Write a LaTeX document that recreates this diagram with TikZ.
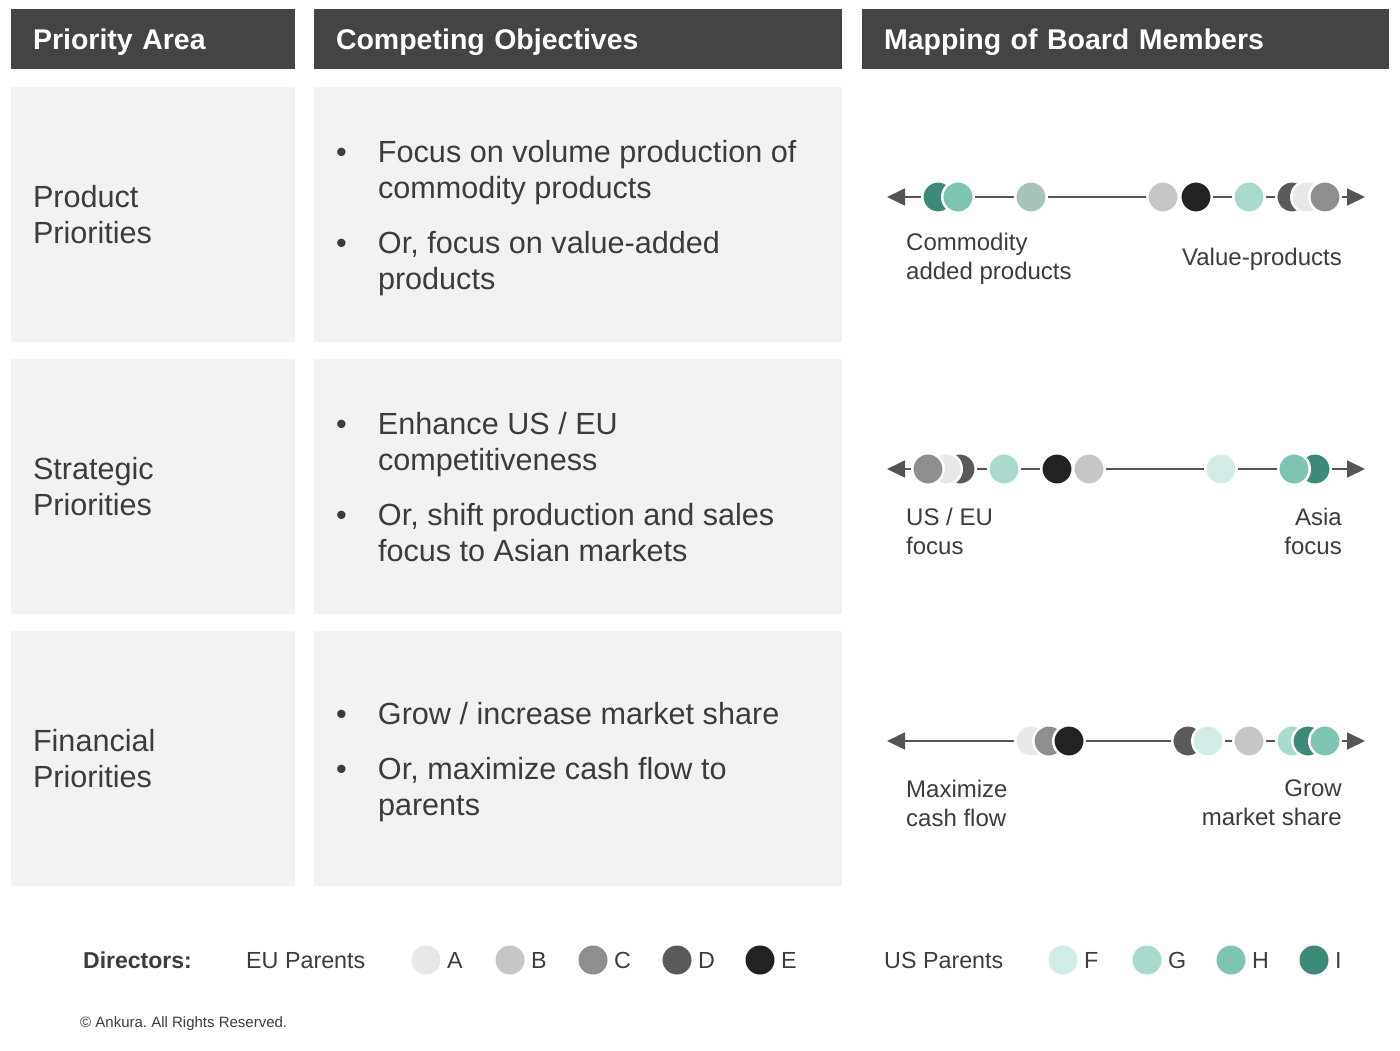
\documentclass[tikz,border=0pt]{standalone}
\usepackage{fontspec}
\setmainfont{Liberation Sans}
\usepackage{xcolor}
\usetikzlibrary{arrows.meta}
\frenchspacing
\definecolor{hdr}{HTML}{444444}
\definecolor{cell}{HTML}{F2F2F2}
\definecolor{ink}{HTML}{3C3C3C}
\definecolor{rule}{HTML}{555555}
\definecolor{dirA}{HTML}{E8E8E8}
\definecolor{dirB}{HTML}{C6C6C6}
\definecolor{dirC}{HTML}{8E8E8E}
\definecolor{dirD}{HTML}{5A5A5A}
\definecolor{dirE}{HTML}{222222}
\definecolor{dirF}{HTML}{D4ECE7}
\definecolor{dirG}{HTML}{A8DACD}
\definecolor{dirH}{HTML}{7DC4B3}
\definecolor{dirI}{HTML}{3E8A78}
\definecolor{dirX}{HTML}{A6C3BC}
\begin{document}
\begin{tikzpicture}[x=1pt,y=-1pt,
  head/.style={fill=hdr,text=white,font=\bfseries\fontsize{28.5}{35}\selectfont,minimum height=60pt,inner xsep=22pt,inner ysep=0pt,align=left,text height=21pt,text depth=0pt},
  cellbox/.style={fill=cell,minimum height=255pt,inner sep=0pt},
  area/.style={text=ink,font=\fontsize{30.6}{36}\selectfont,align=left,anchor=west,inner sep=0pt},
  goals/.style={text=ink,font=\fontsize{30.6}{36}\selectfont,anchor=west,inner sep=0pt},
  pole/.style={text=ink,font=\fontsize{24}{29}\selectfont,inner sep=0pt},
  dot/.style={circle,draw=white,line width=2.5pt,minimum size=31.5pt,inner sep=0pt},
  key/.style={text=ink,font=\fontsize{23.3}{28}\selectfont,anchor=base west,inner sep=0pt},
  scale line/.style={draw=rule,line width=1.8pt,{Triangle[length=18pt,width=17pt]}-{Triangle[length=18pt,width=17pt]}}]
\useasboundingbox (0,0) rectangle (1400,1050);
% headers
\node[head,text width=240pt] (h-area) at (153,39) {Priority Area};
\node[head,text width=484pt] (h-goals) at (578,39) {Competing Objectives};
\node[head,text width=483pt] (h-map) at (1125.5,39) {Mapping of Board Members};
% priority areas
\node[cellbox,minimum width=284pt] (c-prod) at (153,214.5) {};
\node[cellbox,minimum width=284pt] (c-strat) at (153,486.5) {};
\node[cellbox,minimum width=284pt] (c-fin) at (153,758.5) {};
\node[area] (t-prod) at ([xshift=22pt]c-prod.west) {Product\\Priorities};
\node[area] (t-strat) at ([xshift=22pt]c-strat.west) {Strategic\\Priorities};
\node[area] (t-fin) at ([xshift=22pt]c-fin.west) {Financial\\Priorities};
% objectives
\node[cellbox,minimum width=528pt] (o-prod) at (578,214.5) {};
\node[cellbox,minimum width=528pt] (o-strat) at (578,486.5) {};
\node[cellbox,minimum width=528pt] (o-fin) at (578,758.5) {};
\node[goals] (g-prod) at ([xshift=22pt,yshift=-3.8pt]o-prod.west) {\begin{tabular}{@{}p{42pt}@{}l@{}}
  \textbullet & Focus on volume production of\\
              & commodity products\\[19pt]
  \textbullet & Or, focus on value-added\\
              & products
\end{tabular}};
\node[goals] (g-strat) at ([xshift=22pt,yshift=-3.8pt]o-strat.west) {\begin{tabular}{@{}p{42pt}@{}l@{}}
  \textbullet & Enhance US / EU\\
              & competitiveness\\[19pt]
  \textbullet & Or, shift production and sales\\
              & focus to Asian markets
\end{tabular}};
\node[goals] (g-fin) at ([xshift=22pt,yshift=-3.8pt]o-fin.west) {\begin{tabular}{@{}p{42pt}@{}l@{}}
  \textbullet & Grow / increase market share\\[19pt]
  \textbullet & Or, maximize cash flow to\\
              & parents
\end{tabular}};
% board member scales
\coordinate (s1w) at (887,197); \coordinate (s1e) at (1365,197);
\coordinate (s2w) at (887,469); \coordinate (s2e) at (1365,469);
\coordinate (s3w) at (887,741); \coordinate (s3e) at (1365,741);
\draw[scale line] (s1w) -- (s1e);
\draw[scale line] (s2w) -- (s2e);
\draw[scale line] (s3w) -- (s3e);
\foreach \x/\c [count=\i] in {938/dirI,958/dirH,1031/dirX,1163/dirB,1196/dirE,1249/dirG,1292/dirD,1307/dirA,1325/dirC}
  \node[dot,fill=\c] (s1-\i) at (\x,197) {};
\foreach \x/\c [count=\i] in {960/dirD,946/dirA,928/dirC,1004/dirG,1057/dirE,1089/dirB,1221/dirF,1315/dirI,1294/dirH}
  \node[dot,fill=\c] (s2-\i) at (\x,469) {};
\foreach \x/\c [count=\i] in {1031/dirA,1049/dirC,1069/dirE,1188/dirD,1208/dirF,1249/dirB,1292/dirG,1308/dirI,1325/dirH}
  \node[dot,fill=\c] (s3-\i) at (\x,741) {};
\node[pole,anchor=west,align=left] (s1-lo) at (906,259) {Commodity\\added products};
\node[pole,anchor=east,align=right] (s1-hi) at (1342,259) {Value-products};
\node[pole,anchor=west,align=left] (s2-lo) at (906,531) {US / EU\\focus};
\node[pole,anchor=east,align=right] (s2-hi) at (1342,531) {Asia\\focus};
\node[pole,anchor=west,align=left] (s3-lo) at (906,803) {Maximize\\cash flow};
\node[pole,anchor=east,align=right] (s3-hi) at (1342,803) {Grow\\market share};
% legend
\node[key,font=\bfseries\fontsize{23}{28}\selectfont] (k-dir) at (83,968) {Directors:};
\node[key] (k-eu) at (246,968) {EU Parents};
\node[key] (k-us) at (884,968) {US Parents};
\foreach \x/\l in {426/A,510/B,593/C,677/D,760/E,1063/F,1147/G,1231/H,1314/I}{
  \node[dot,fill=dir\l,draw=none,minimum size=29pt] (k-\l) at (\x,960) {};
  \node[key] (kl-\l) at (\x+21,968) {\l};
}
\node[key,font=\fontsize{15}{18}\selectfont] (k-copy) at (80,1027) {\textcopyright{} Ankura. All Rights Reserved.};
\end{tikzpicture}
\end{document}
